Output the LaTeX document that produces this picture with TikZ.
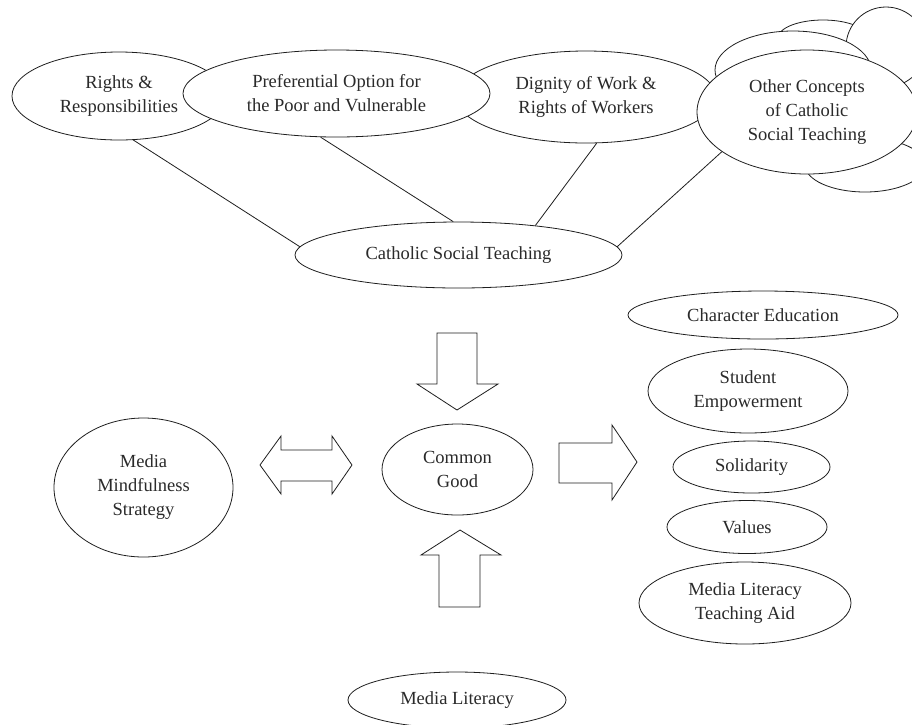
\documentclass[tikz,border=0pt]{standalone}
\usepackage{fontspec}
\setmainfont{Liberation Serif}
\usetikzlibrary{shapes.geometric}
\definecolor{linec}{HTML}{1E1E1E}
\definecolor{textc}{HTML}{2A2A2A}
\tikzset{
 ell/.style={ellipse, draw=linec, fill=white, line width=0.8pt, inner sep=0pt, align=center, text=textc, font=\fontsize{18.5}{24}\selectfont},
 conn/.style={draw=linec, line width=0.8pt},
 blk/.style={draw=linec, fill=white, line width=0.8pt, line join=miter}
}
\begin{document}
\begin{tikzpicture}[x=1pt,y=-1pt]
\path[use as bounding box, fill=white] (0,0) rectangle (912,724);
% top row
\node[ell, minimum width=214pt, minimum height=88pt] (rights) at (119,96) {Rights \&\\Responsibilities};
\node[ell, minimum width=260pt, minimum height=92pt] (dignity) at (586,97) {Dignity of Work \&\\Rights of Workers};
% cloud bumps
\node[ell, minimum width=90pt, minimum height=36pt] (cloudc) at (823,38) {};
\node[ell, minimum width=80pt, minimum height=80pt] (cloudo) at (886,47) {};
\node[ell, minimum width=156pt, minimum height=78pt] (cloudb) at (793,70) {};
\node[ell, minimum width=120pt, minimum height=54pt] (cloudd) at (865,165) {};
\node[ell, minimum width=220pt, minimum height=124pt] (other) at (807,112) {Other Concepts\\of Catholic\\Social Teaching};
\node[ell, minimum width=307pt, minimum height=87pt] (pref) at (336.5,93.5) {Preferential Option for\\the Poor and Vulnerable};
\node[ell, minimum width=327pt, minimum height=66pt] (cst) at (458.5,255) {Catholic Social Teaching};
% connectors
\draw[conn] (rights.288) -- (cst.177);
\draw[conn] (pref.250) -- (cst.99);
\draw[conn] (dignity.283) -- (cst.21);
\draw[conn] (other.205) -- (cst.3);
% middle
\node[ell, minimum width=179pt, minimum height=139pt] (mms) at (143.5,487.5) {Media\\Mindfulness\\Strategy};
\node[ell, minimum width=151pt, minimum height=91pt] (cg) at (457.5,469.5) {Common\\Good};
% right column
\node[ell, minimum width=270pt, minimum height=48pt] (chared) at (763,315) {Character Education};
\node[ell, minimum width=200pt, minimum height=84pt] (stud) at (748,391) {Student\\Empowerment};
\node[ell, minimum width=157pt, minimum height=52pt] (solid) at (751.5,467) {Solidarity};
\node[ell, minimum width=160pt, minimum height=53pt] (values) at (747,527) {Values};
\node[ell, minimum width=212pt, minimum height=82pt] (mlta) at (745,603) {Media Literacy\\Teaching Aid};
% bottom
\node[ell, minimum width=218pt, minimum height=56pt] (ml) at (457,700) {Media Literacy};
% block arrows
\draw[blk] (437,333) -- (477,333) -- (477,384) -- (498,384) -- (457,410) -- (417,384) -- (437,384) -- cycle;
\draw[blk] (439,607) -- (480,607) -- (480,555) -- (501,555) -- (460,530) -- (421,555) -- (439,555) -- cycle;
\draw[blk] (559,443) -- (612,443) -- (612,425) -- (637,462) -- (612,500) -- (612,483) -- (559,483) -- cycle;
\draw[blk] (260,465) -- (281,436) -- (281,450) -- (332,450) -- (332,436) -- (352,465) -- (332,494) -- (332,481) -- (281,481) -- (281,494) -- cycle;
\end{tikzpicture}
\end{document}
